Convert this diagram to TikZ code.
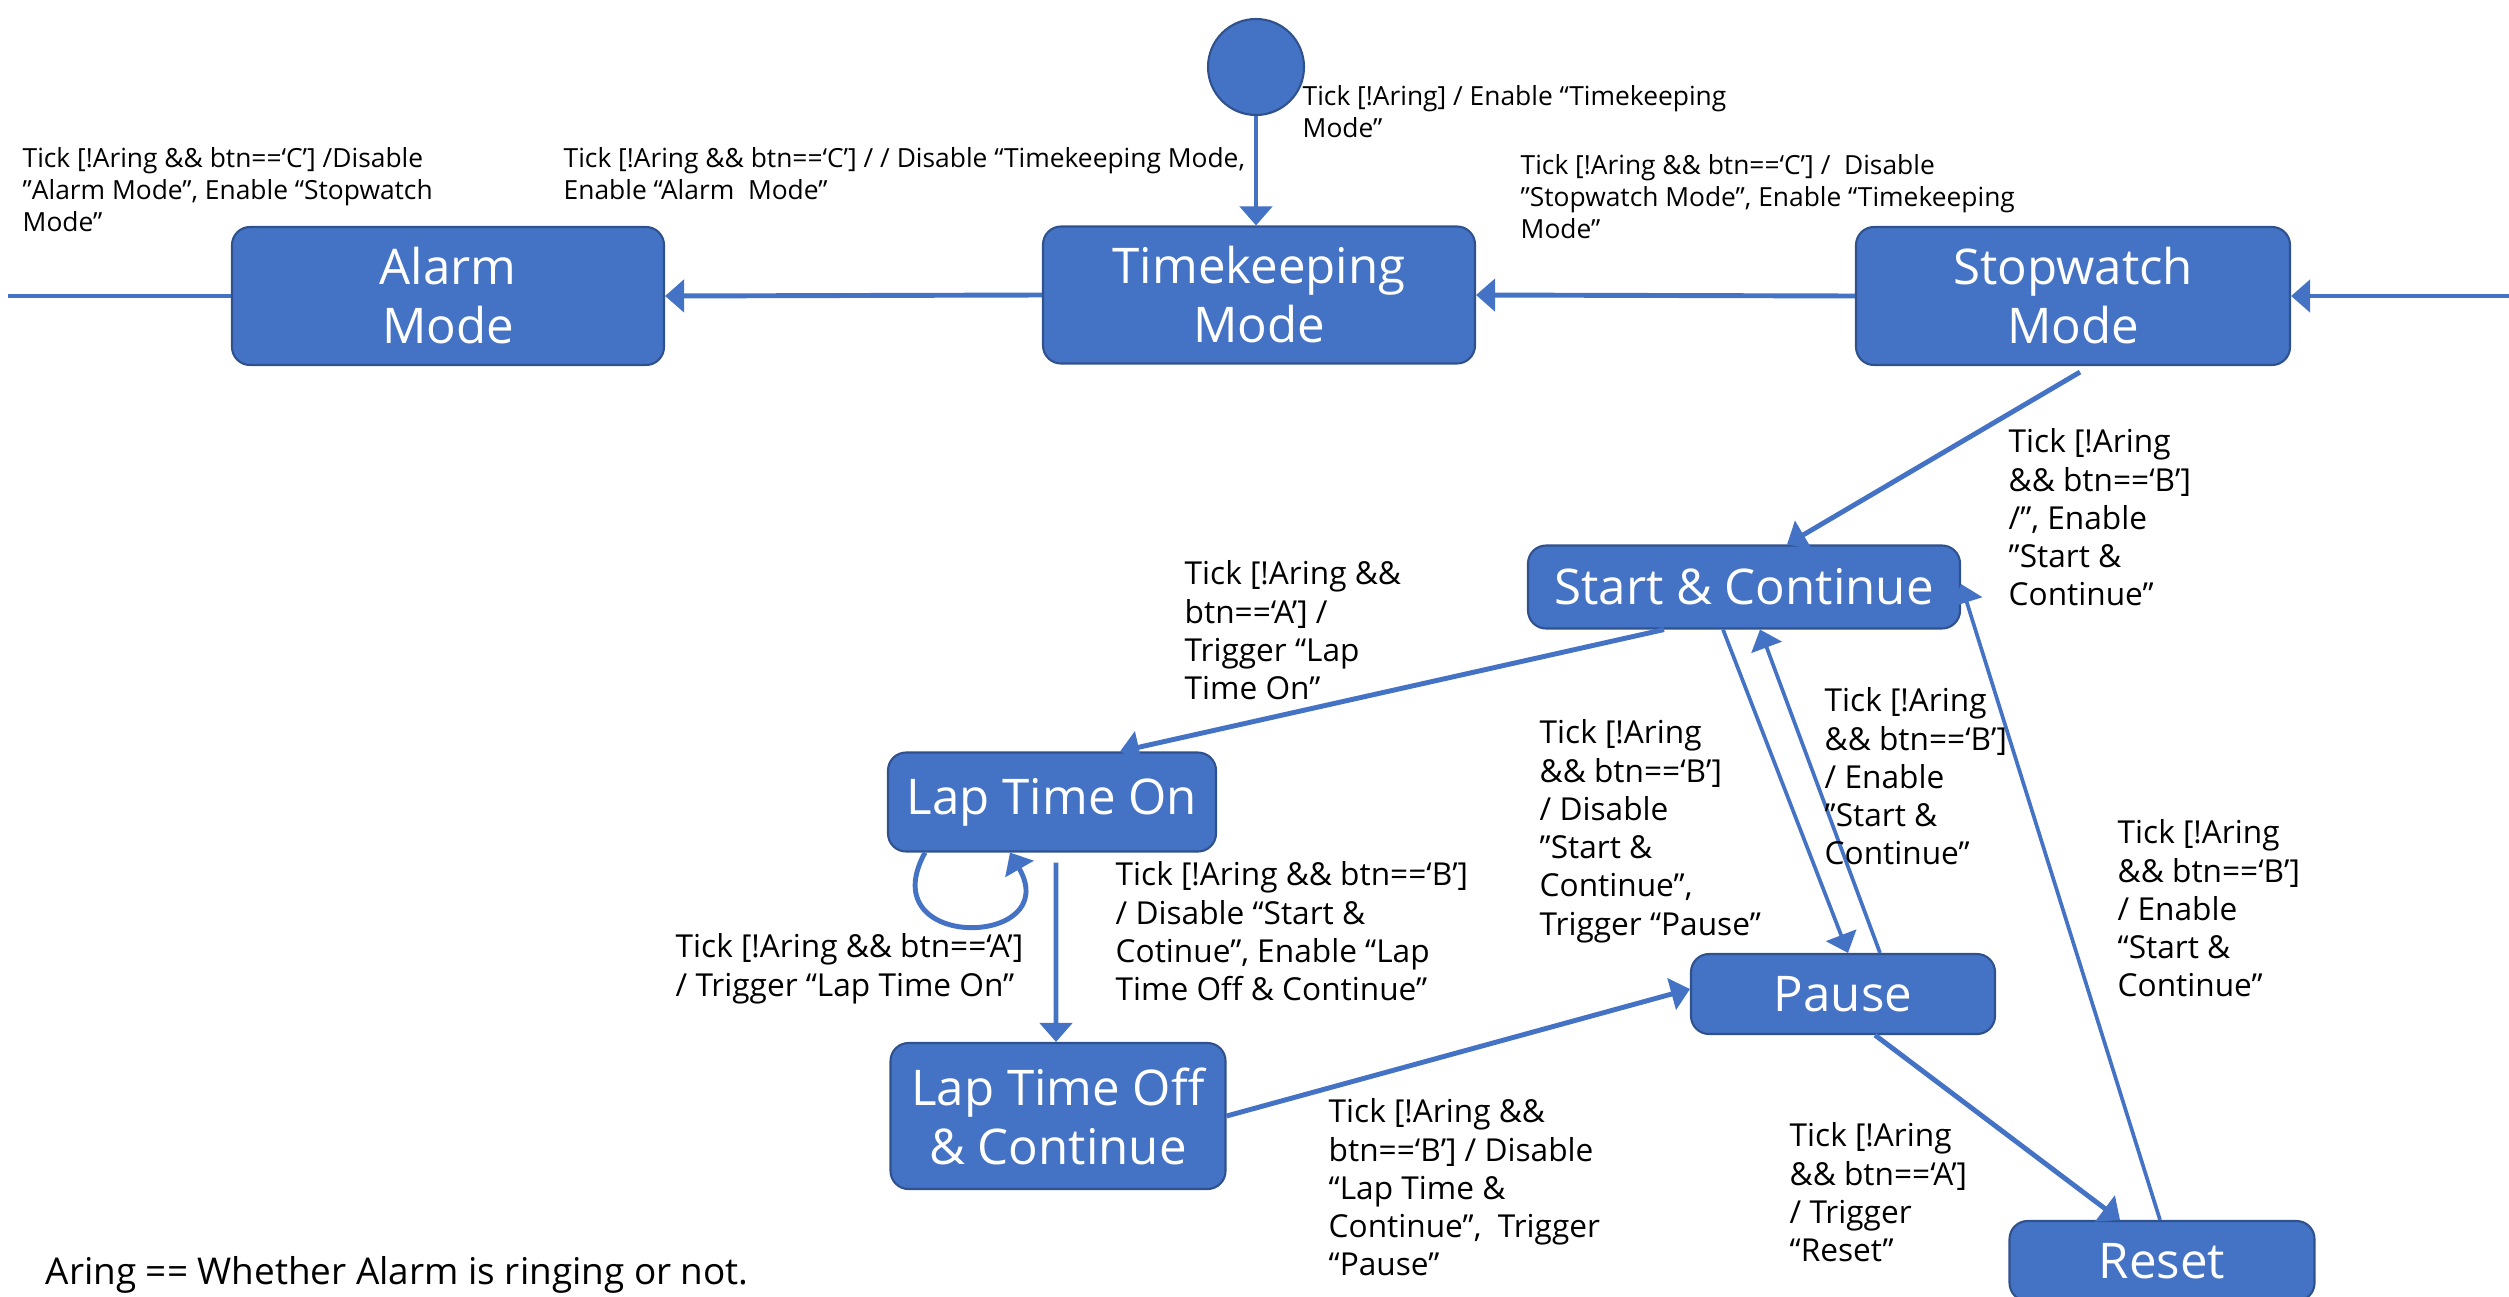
\documentclass[tikz,border=0pt]{standalone}
\usepackage{fontspec}
\setmainfont{Open Sans}
\usepackage{tikz}
\usetikzlibrary{arrows.meta,positioning}
\definecolor{stateblue}{HTML}{4472C4}
\definecolor{stateedge}{HTML}{2F528F}

\begin{document}
\begin{tikzpicture}[
  st/.style={draw=stateedge,line width=0.6pt,fill=stateblue,rounded corners=1.8mm,
             text=white,font=\fontsize{14}{16.8}\selectfont,align=center,inner sep=0pt},
  ini/.style={circle,draw=stateedge,line width=0.6pt,fill=stateblue,
              minimum size=9.6mm,inner sep=0pt},
  wire/.style={line width=1.4pt,stateblue},
  tr/.style={wire,-{Triangle[width=3.2mm,length=1.9mm]}},
  trthin/.style={tr,line width=1.05pt},
  lbl/.style={anchor=north west,inner sep=0pt,align=left,
              font=\fontsize{9}{10.9}\selectfont},
  lbltop/.style={lbl,font=\fontsize{7.5}{9.1}\selectfont}
]
\useasboundingbox (0,0) rectangle (25.09,-12.96);

% mode states
\node[ini] (init) at (12.56,-0.67) {};
\node[st,minimum width=4.32cm,minimum height=1.38cm] (alarm) at (4.48,-2.96) {Alarm\\Mode};
\node[st,minimum width=4.32cm,minimum height=1.37cm] (tk) at (12.59,-2.95) {Timekeeping\\Mode};
\node[st,minimum width=4.34cm,minimum height=1.38cm] (sw) at (20.73,-2.96) {Stopwatch\\Mode};

% stopwatch states
\node[st,minimum width=4.32cm,minimum height=0.83cm] (sc) at (17.44,-5.87) {Start \& Continue};
\node[st,minimum width=3.28cm,minimum height=0.99cm] (lapon) at (10.52,-8.02) {Lap Time On};
\node[st,minimum width=3.35cm,minimum height=1.46cm] (lapoff) at (10.58,-11.16) {Lap Time Off\\\& Continue};
\node[st,minimum width=3.04cm,minimum height=0.80cm] (pause) at (18.43,-9.94) {Pause};
\node[st,minimum width=3.05cm,minimum height=0.80cm] (reset) at (21.62,-12.61) {Reset};

\coordinate (leftend) at (0.08,-2.96);
\coordinate (rightend) at (25.09,-2.96);

% mode transitions
\draw[tr] (init.south) -- (init.south |- tk.north);
\draw[tr] (tk.west) -- (alarm.east);
\draw[tr] (sw.west) -- (tk.east);
\draw[wire] (leftend) -- (alarm.west);
\draw[tr] (rightend) -- (sw.east);
\draw[tr] ([xshift=0.07cm,yshift=-0.06cm]sw.south) -- ([xshift=0.43cm]sc.north);

% stopwatch transitions
\draw[tr] ([xshift=-0.80cm]sc.south) -- ([xshift=0.68cm]lapon.north);
\draw[tr] ([xshift=-1.27cm]lapon.south) .. controls +(-0.55,-1.0) and +(0.55,-0.95)
  .. ([xshift=-0.42cm]lapon.south);
\draw[tr] ([xshift=0.04cm,yshift=-0.10cm]lapon.south) -- ([xshift=-0.02cm]lapoff.north);
\draw[tr] (lapoff.east) -- ([yshift=0.05cm]pause.west);
\draw[trthin] ([xshift=-0.21cm]sc.south) -- ([xshift=0.05cm]pause.north);
\draw[trthin] ([xshift=0.37cm]pause.north) -- ([xshift=0.16cm]sc.south);
\draw[tr] ([xshift=0.32cm]pause.south) -- ([xshift=-0.42cm]reset.north);
\draw[trthin] ([xshift=-0.02cm]reset.north) -- ([yshift=0.03cm]sc.east);

% guards and actions
\node[lbltop] (lInit) at (13.02,-0.85) {Tick [!Aring] / Enable “Timekeeping\\Mode”};
\node[lbltop] (lAlSw) at (0.22,-1.47) {Tick [!Aring \&\& btn==‘C’] /Disable\\"Alarm Mode”, Enable “Stopwatch\\Mode”};
\node[lbltop] (lTkAl) at (5.63,-1.47) {Tick [!Aring \&\& btn==‘C’] / / Disable “Timekeeping Mode,\\Enable “Alarm\ \ Mode”};
\node[lbltop] (lSwTk) at (15.20,-1.54) {Tick [!Aring \&\& btn==‘C’] /\ \ Disable\\"Stopwatch Mode”, Enable “Timekeeping\\Mode”};
\node[lbl] (lSwSc) at (20.08,-4.28) {Tick [!Aring\\\&\& btn==‘B’]\\/”, Enable\\"Start \&\\Continue”};
\node[lbl] (lScOn) at (11.84,-5.60) {Tick [!Aring \&\&\\btn==‘A’] /\\Trigger “Lap\\Time On”};
\node[lbl] (lScPa) at (15.39,-7.19) {Tick [!Aring\\\&\& btn==‘B’]\\/ Disable\\"Start \&\\Continue”,\\Trigger “Pause”};
\node[lbl] (lPaSc) at (18.24,-6.87) {Tick [!Aring\\\&\& btn==‘B’]\\/ Enable\\"Start \&\\Continue”};
\node[lbl] (lReSc) at (21.17,-8.19) {Tick [!Aring\\\&\& btn==‘B’]\\/ Enable\\“Start \&\\Continue”};
\node[lbl] (lOnOn) at (6.75,-9.33) {Tick [!Aring \&\& btn==‘A’]\\/ Trigger “Lap Time On”};
\node[lbl] (lOnOff) at (11.15,-8.61) {Tick [!Aring \&\& btn==‘B’]\\/ Disable “Start \&\\Cotinue”, Enable “Lap\\Time Off \& Continue”};
\node[lbl] (lOffPa) at (13.28,-10.98) {Tick [!Aring \&\&\\btn==‘B’] / Disable\\“Lap Time \&\\Continue”,\ \ Trigger\\“Pause”};
\node[lbl] (lPaRe) at (17.89,-11.22) {Tick [!Aring\\\&\& btn==‘A’]\\/ Trigger\\“Reset”};

\node[anchor=west,inner sep=0pt,font=\fontsize{10.5}{12}\selectfont] (note) at (0.45,-12.75)
  {Aring == Whether Alarm is ringing or not.};
\end{tikzpicture}
\end{document}
